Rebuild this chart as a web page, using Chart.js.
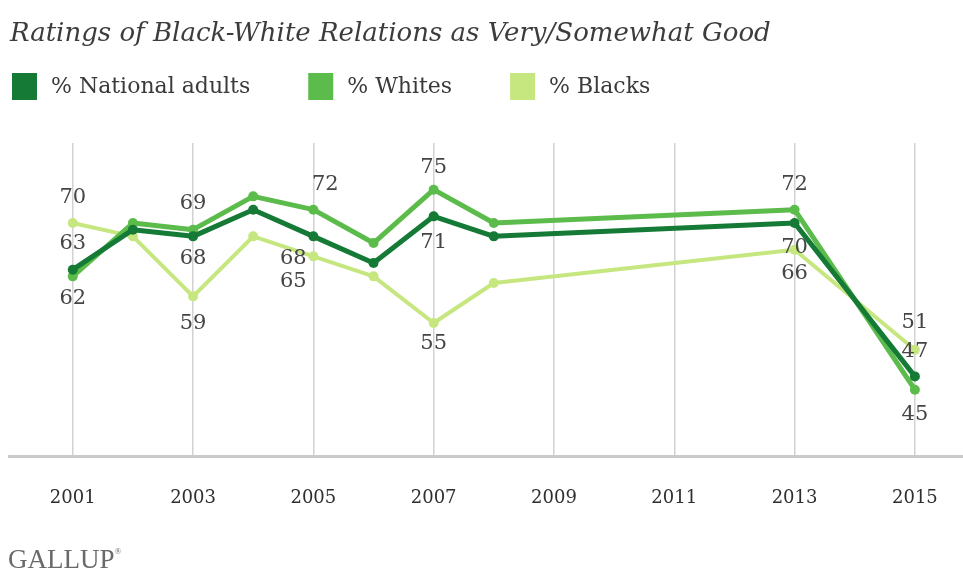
<!DOCTYPE html>
<html>
<head>
<meta charset="utf-8">
<script src="https://cdn.jsdelivr.net/npm/chart.js@4/dist/chart.umd.min.js"></script>
<style>
  html, body { margin: 0; padding: 0; background: #fff; }
  #wrap { width: 963px; height: 571px; }
</style>
</head>
<body>
<div id="wrap"><canvas id="c" width="963" height="571"></canvas></div>
<script>
// Survey years and shares rating black-white relations as very/somewhat good
const years = [2001, 2002, 2003, 2004, 2005, 2006, 2007, 2008, 2013, 2015];
const nationalAdults = [63, 69, 68, 72, 68, 64, 71, 68, 70, 47];
const whites = [62, 70, 69, 74, 72, 67, 75, 70, 72, 45];
const blacks = [70, 68, 59, 68, 65, 62, 55, 61, 66, 51];
const tickYears = [2001, 2003, 2005, 2007, 2009, 2011, 2013, 2015];

const titleText = 'Ratings of Black-White Relations as Very/Somewhat Good';
const seriesNames = ['% National adults', '% Whites', '% Blacks'];
const seriesColors = ['#147a36', '#5cbc4b', '#c6e77f'];

// Which years carry a value label, and on which side of the point it sits
const labelSides = [
  { 2001: [0, -26], 2003: [0, 22], 2005: [-20, 22], 2007: [0, 26], 2013: [0, 25], 2015: [0, -25] },
  { 2001: [0, 22], 2003: [0, -26], 2005: [12, -25], 2007: [0, -22], 2013: [0, -25], 2015: [0, 25] },
  { 2001: [0, -25], 2003: [0, 27], 2005: [-20, 25], 2007: [0, 21], 2013: [0, 24], 2015: [0, -27] }
];

const seriesValues = [nationalAdults, whites, blacks];

const datasets = seriesValues.map((vals, i) => ({
  label: seriesNames[i],
  data: years.map((y, j) => ({ x: y, y: vals[j] })),
  borderColor: seriesColors[i],
  backgroundColor: seriesColors[i],
  borderWidth: i === 2 ? 4 : 5,
  pointRadius: 5,
  pointBorderWidth: 0,
  pointBackgroundColor: seriesColors[i],
  tension: 0,
  borderJoinStyle: 'round',
  clip: false
}));

// Header (title + legend), value labels and footer mark
const decorations = {
  id: 'decorations',
  afterDatasetsDraw(chart) {
    const ctx = chart.ctx;
    ctx.save();
    // value labels
    ctx.font = '21px "DejaVu Serif"';
    ctx.fillStyle = '#454545';
    ctx.textAlign = 'center';
    ctx.textBaseline = 'middle';
    chart.data.datasets.forEach((ds, i) => {
      const meta = chart.getDatasetMeta(i);
      meta.data.forEach((pt, j) => {
        const yr = years[j];
        const side = labelSides[i][yr];
        if (!side) return;
        ctx.fillText(String(seriesValues[i][j]), pt.x + side[0], pt.y + side[1]);
      });
    });
    ctx.restore();
  },
  afterDraw(chart) {
    const ctx = chart.ctx;
    ctx.save();
    // title
    ctx.font = 'italic 26px "DejaVu Serif"';
    ctx.fillStyle = '#3c3c3c';
    ctx.textAlign = 'left';
    ctx.textBaseline = 'alphabetic';
    ctx.fillText(titleText, 10, 41);

    // legend
    ctx.font = '22px "DejaVu Serif"';
    ctx.textBaseline = 'middle';
    let x = 12;
    chart.data.datasets.forEach((ds) => {
      ctx.fillStyle = ds.borderColor;
      ctx.fillRect(x, 73, 25, 27);
      ctx.fillStyle = '#3a3a3a';
      ctx.fillText(ds.label, x + 39, 87);
      x += 39 + ctx.measureText(ds.label).width + 58;
    });

    // footer mark
    ctx.font = '27px "Liberation Serif"';
    ctx.fillStyle = '#6a6a6a';
    ctx.textBaseline = 'alphabetic';
    ctx.fillText('GALLUP', 8, 568);
    const w = ctx.measureText('GALLUP').width;
    ctx.font = '9px "Liberation Serif"';
    ctx.fillText('\u00AE', 8 + w, 554);
    ctx.restore();
  }
};

new Chart(document.getElementById('c'), {
  type: 'line',
  data: { datasets },
  options: {
    responsive: false,
    animation: false,
    layout: { autoPadding: false, padding: { top: 143, left: 9, right: 0, bottom: 31 } },
    plugins: {
      legend: { display: false },
      title: { display: false },
      tooltip: { enabled: false }
    },
    scales: {
      x: {
        type: 'linear',
        min: 1999.94,
        max: 2015.8,
        afterBuildTicks: (scale) => { scale.ticks = tickYears.map(v => ({ value: v })); },
        // the end labels sit well inside the axis, so no extra side room is needed
        afterFit: (scale) => { scale.paddingLeft = 0; scale.paddingRight = 0; },
        ticks: {
          autoSkip: false,
          maxRotation: 0,
          padding: 31,
          color: '#2e2e2e',
          font: { family: '"DejaVu Serif"', size: 18 },
          callback: (v) => String(v)
        },
        grid: { color: '#d2d2d2', lineWidth: 1.5, drawTicks: false },
        border: { display: true, color: '#cacaca', width: 3 }
      },
      y: {
        display: false,
        min: 35,
        max: 82
      }
    }
  },
  plugins: [decorations]
});
</script>
</body>
</html>
